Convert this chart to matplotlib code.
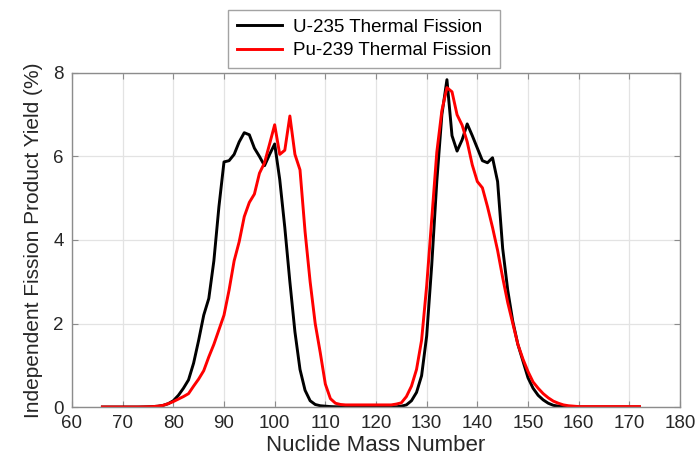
import matplotlib
matplotlib.use("Agg")
import matplotlib.pyplot as plt
import numpy as np

plt.rcParams['font.family'] = ['Liberation Sans', 'DejaVu Sans']

mass = list(range(66, 173))

u235 = [0, 0, 0, 0, 0, 0, 0, 0, 0.002, 0.005, 0.01, 0.02,          # 66-77
        0.04, 0.08, 0.15, 0.28, 0.45, 0.65, 1.05, 1.6, 2.2, 2.6,     # 78-87
        3.5, 4.8, 5.87, 5.9, 6.05, 6.35, 6.57, 6.52, 6.2, 6.0,       # 88-97
        5.78, 6.05, 6.3, 5.45, 4.3, 3.0, 1.8, 0.9, 0.4, 0.15,        # 98-107
        0.06, 0.03, 0.02, 0.01, 0.005, 0.005, 0.005, 0.005, 0.005, 0.005,  # 108-117
        0.005, 0.005, 0.005, 0.005, 0.005, 0.005, 0.005, 0.02, 0.05, 0.15,  # 118-127
        0.35, 0.75, 1.7, 3.4, 5.4, 7.0, 7.84, 6.5, 6.13, 6.4,        # 128-137
        6.78, 6.5, 6.2, 5.9, 5.85, 5.97, 5.4, 3.8, 2.8, 2.05,        # 138-147
        1.5, 1.1, 0.7, 0.45, 0.28, 0.17, 0.09, 0.04, 0.02, 0.01,    # 148-157
        0, 0, 0, 0, 0, 0, 0, 0, 0, 0, 0, 0, 0, 0, 0]                  # 158-172

pu239 = [0, 0, 0, 0, 0, 0, 0, 0, 0.002, 0.005, 0.01, 0.02,         # 66-77
         0.04, 0.08, 0.13, 0.19, 0.25, 0.32, 0.5, 0.67, 0.87, 1.2,   # 78-87
         1.5, 1.85, 2.2, 2.8, 3.5, 3.96, 4.56, 4.9, 5.1, 5.6,        # 88-97
         5.85, 6.3, 6.76, 6.05, 6.15, 6.97, 6.05, 5.68, 4.2, 3.0,    # 98-107
         2.0, 1.3, 0.55, 0.2, 0.09, 0.06, 0.05, 0.05, 0.05, 0.05,    # 108-117
         0.05, 0.05, 0.05, 0.05, 0.05, 0.05, 0.07, 0.1, 0.25, 0.5,   # 118-127
         0.9, 1.6, 2.9, 4.5, 6.1, 7.1, 7.65, 7.55, 7.0, 6.75,        # 128-137
         6.35, 5.8, 5.4, 5.25, 4.8, 4.3, 3.75, 3.1, 2.5, 2.0,        # 138-147
         1.5, 1.15, 0.85, 0.6, 0.45, 0.32, 0.22, 0.14, 0.09, 0.05,   # 148-157
         0.03, 0.02, 0.01, 0.01, 0.01, 0.01, 0.01, 0.01, 0.01, 0.01,
         0.01, 0.01, 0.01, 0.01, 0.01]                               # 158-172

labels = ["U-235 Thermal Fission", "Pu-239 Thermal Fission"]
xticks = list(range(60, 181, 10))
yticks = [0, 2, 4, 6, 8]

fig = plt.figure(figsize=(6.99, 4.63), dpi=100)
ax = fig.add_axes([72/699, 1 - 407/463, (680 - 72)/699, (407 - 73)/463])

l1, = ax.plot(mass, u235, color='black', lw=2.1, label=labels[0],
              solid_joinstyle='round')
l2, = ax.plot(mass, pu239, color='#ff0000', lw=2.1, label=labels[1],
              solid_joinstyle='round')

ax.set_xlim(60, 180)
ax.set_ylim(0, 8)
ax.set_xticks(xticks)
ax.set_yticks(yticks)
ax.grid(True, color='#e3e3e3', lw=0.9)
ax.set_axisbelow(True)
for s in ax.spines.values():
    s.set_color('#8c8c8c')
    s.set_linewidth(1.0)
ax.tick_params(direction='in', length=4, width=0.8, color='#8c8c8c',
               top=True, right=True, labelsize=13.5, labelcolor='#262626', pad=6)
ax.set_xlabel("Nuclide Mass Number", fontsize=16, color='#262626', labelpad=2)
ax.set_ylabel("Independent Fission Product Yield (%)", fontsize=15, color='#262626', labelpad=7)

leg = fig.legend(handles=[l1, l2], labels=labels, loc='center',
                 bbox_to_anchor=(364/699, 1 - 39/463), fontsize=13.5,
                 frameon=True, fancybox=False, handlelength=2.4,
                 borderpad=0.45, labelspacing=0.35, handletextpad=0.6)
leg.get_frame().set_edgecolor('#8c8c8c')
leg.get_frame().set_linewidth(1.0)

fig.savefig("out.png", dpi=100)
